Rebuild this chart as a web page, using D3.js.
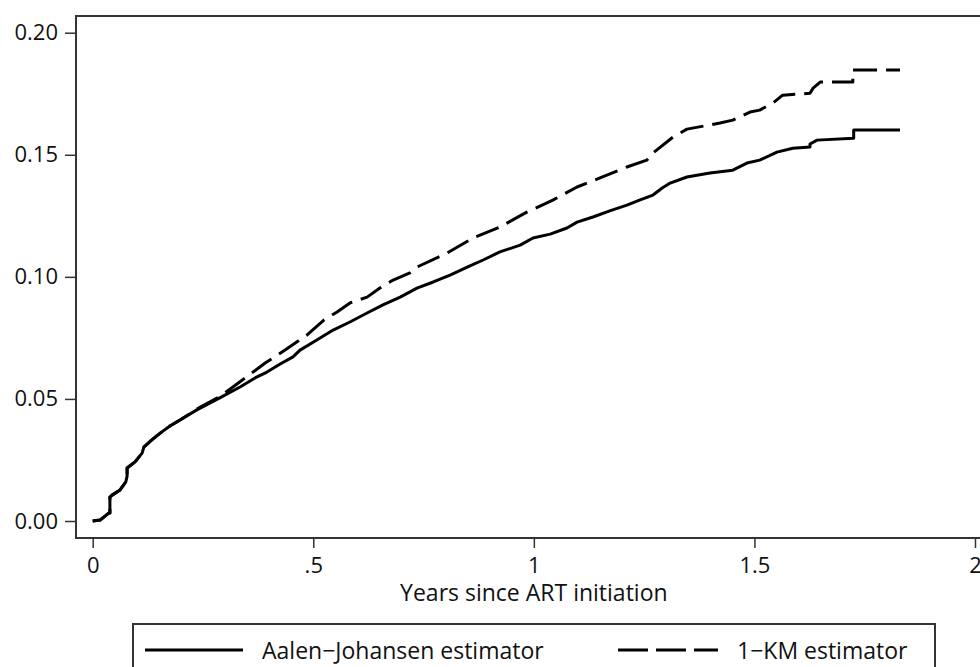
<!DOCTYPE html>
<html>
<head>
<meta charset="utf-8">
<script src="https://cdn.jsdelivr.net/npm/d3@7/dist/d3.min.js"></script>
<style>
  html, body { margin: 0; padding: 0; background: #fff; }
  svg { display: block; }
  text { font-family: "Open Sans", "Noto Sans", sans-serif; fill: #111; }
</style>
</head>
<body>
<svg id="chart" width="980" height="667"></svg>
<script>
// ---- data ----
const xTicks = [0, 0.5, 1, 1.5, 2];
const xTickLabels = ["0", ".5", "1", "1.5", "2"];
const yTicks = [0, 0.05, 0.10, 0.15, 0.20];
const yTickLabels = ["0.00", "0.05", "0.10", "0.15", "0.20"];
const xTitle = "Years since ART initiation";
const seriesNames = ["Aalen\u2212Johansen estimator", "1\u2212KM estimator"];

// Aalen-Johansen estimator: [years, cumulative incidence]
const ajTime = [0,0.017,0.028,0.037,0.039,0.039,0.044,0.062,0.075,0.078,0.078,0.096,0.112,0.116,0.134,0.153,0.175,0.198,0.236,0.288,0.334,0.368,0.395,0.425,0.454,0.470,0.508,0.545,0.583,0.622,0.658,0.697,0.735,0.772,0.810,0.849,0.885,0.923,0.969,0.998,1.037,1.075,1.098,1.134,1.172,1.211,1.241,1.270,1.291,1.309,1.347,1.399,1.451,1.483,1.512,1.551,1.587,1.626,1.626,1.642,1.725,1.725,1.830];
const ajValue = [0,0.0004,0.002,0.0033,0.0033,0.0098,0.0106,0.0127,0.016,0.0184,0.0217,0.0242,0.0278,0.0303,0.0332,0.036,0.0389,0.0414,0.0455,0.0504,0.0549,0.0586,0.061,0.0643,0.0672,0.070,0.0741,0.0782,0.0815,0.0852,0.0885,0.0917,0.0954,0.0979,0.1007,0.104,0.1069,0.1102,0.113,0.1159,0.1175,0.120,0.1224,0.1245,0.127,0.1294,0.1315,0.1335,0.1364,0.1384,0.1409,0.1425,0.1437,0.1466,0.1478,0.1511,0.1527,0.1532,0.1544,0.1560,0.1568,0.1601,0.1601];

// 1-KM estimator: [years, 1 - survival]
const kmTime = [0,0.017,0.028,0.037,0.039,0.039,0.044,0.062,0.075,0.078,0.078,0.096,0.112,0.116,0.134,0.153,0.175,0.198,0.244,0.290,0.327,0.391,0.436,0.486,0.524,0.554,0.583,0.622,0.651,0.681,0.719,0.735,0.803,0.862,0.923,0.984,1.043,1.098,1.150,1.211,1.256,1.270,1.315,1.347,1.422,1.451,1.490,1.512,1.542,1.564,1.626,1.633,1.649,1.723,1.723,1.830];
const kmValue = [0,0.0004,0.002,0.0033,0.0033,0.0098,0.0106,0.0127,0.016,0.0184,0.0217,0.0242,0.0278,0.0303,0.0332,0.036,0.0389,0.0414,0.0467,0.0512,0.0561,0.0647,0.070,0.0762,0.0823,0.0856,0.0893,0.0917,0.0954,0.0987,0.1016,0.104,0.1097,0.1159,0.1204,0.1265,0.1314,0.1368,0.1405,0.145,0.1478,0.1507,0.1572,0.1605,0.163,0.1642,0.1675,0.1683,0.1712,0.1744,0.1752,0.1773,0.1798,0.1798,0.1847,0.1847];

// ---- layout ----
const svg = d3.select("#chart");
const frame = { left: 76, top: 16, bottom: 538, right: 992 };
const x = d3.scaleLinear().domain([0, 2]).range([92.7, 975]);
const y = d3.scaleLinear().domain([0, 0.2]).range([521, 32.7]);
const frameColor = "#333";
const tickFont = 22;
const textFont = 23;

// frame lines (left, top, bottom)
svg.append("path")
  .attr("d", `M${frame.right},${frame.top}H${frame.left}V${frame.bottom}H${frame.right}`)
  .attr("fill", "none").attr("stroke", frameColor).attr("stroke-width", 2);

// y axis
const yAxis = d3.axisLeft(y).tickValues(yTicks)
  .tickFormat((d, i) => yTickLabels[i]).tickSize(11).tickPadding(7);
const gy = svg.append("g").attr("transform", `translate(${frame.left},0)`).call(yAxis);
gy.select(".domain").remove();
gy.selectAll(".tick line").attr("stroke", frameColor).attr("stroke-width", 1.5);
gy.selectAll(".tick text").attr("font-size", tickFont).attr("fill", "#111")
  .style("font-family", '"Open Sans", sans-serif');

// x axis
const xAxis = d3.axisBottom(x).tickValues(xTicks)
  .tickFormat((d, i) => xTickLabels[i]).tickSize(10).tickPadding(9);
const gx = svg.append("g").attr("transform", `translate(0,${frame.bottom})`).call(xAxis);
gx.select(".domain").remove();
gx.selectAll(".tick line").attr("stroke", frameColor).attr("stroke-width", 1.5);
gx.selectAll(".tick text").attr("font-size", tickFont).attr("fill", "#111")
  .style("font-family", '"Open Sans", sans-serif');

// x title
svg.append("text").attr("x", x(1)).attr("y", 601)
  .attr("text-anchor", "middle").attr("font-size", textFont).text(xTitle);

// curves
const line = d3.line().x(d => x(d[0])).y(d => y(d[1])).curve(d3.curveLinear);
const ajData = ajTime.map((t, i) => [t, ajValue[i]]);
const kmData = kmTime.map((t, i) => [t, kmValue[i]]);

svg.append("path").datum(kmData).attr("d", line)
  .attr("fill", "none").attr("stroke", "#000").attr("stroke-width", 3)
  .attr("stroke-dasharray", "24,9").attr("stroke-linejoin", "round");
svg.append("path").datum(ajData).attr("d", line)
  .attr("fill", "none").attr("stroke", "#000").attr("stroke-width", 3)
  .attr("stroke-linejoin", "round");

// legend
const lg = svg.append("g");
lg.append("rect").attr("x", 133).attr("y", 624).attr("width", 802).attr("height", 60)
  .attr("fill", "#fff").attr("stroke", frameColor).attr("stroke-width", 2);
const legendItems = [
  { name: seriesNames[0], x0: 145, x1: 243, tx: 262, dash: null },
  { name: seriesNames[1], x0: 618, x1: 718, tx: 737, dash: "30,8" }
];
legendItems.forEach(it => {
  lg.append("line").attr("x1", it.x0).attr("x2", it.x1).attr("y1", 650).attr("y2", 650)
    .attr("stroke", "#000").attr("stroke-width", 3)
    .attr("stroke-dasharray", it.dash);
  lg.append("text").attr("x", it.tx).attr("y", 659).attr("font-size", textFont).text(it.name);
});
</script>
</body>
</html>
